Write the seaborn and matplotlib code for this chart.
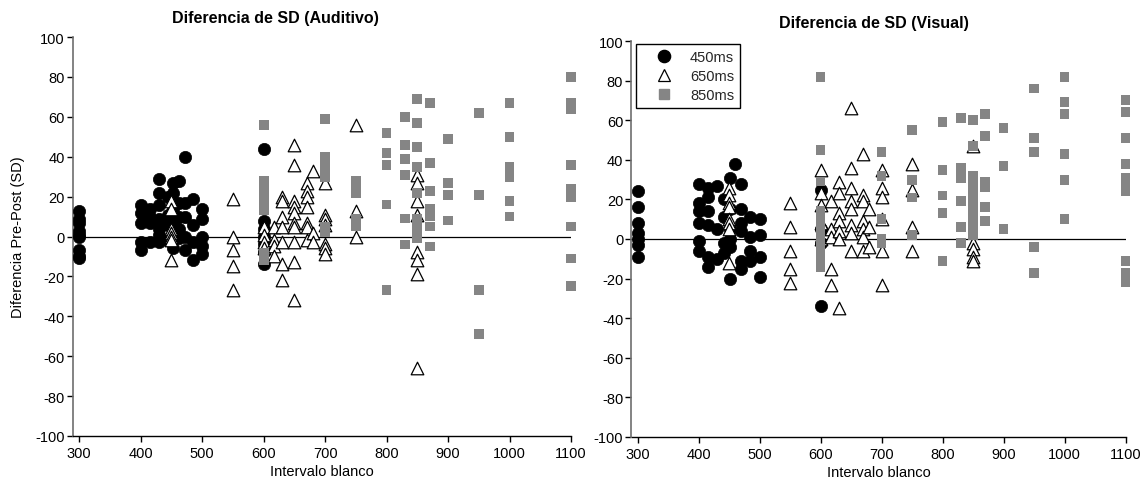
import matplotlib
matplotlib.use("Agg")
import matplotlib.pyplot as plt
import seaborn as sns
import pandas as pd
from matplotlib.lines import Line2D

# ---------------- data (interval, list of values) ----------------
series_names = ["450ms", "650ms", "850ms"]
x_ticks = [300, 400, 500, 600, 700, 800, 900, 1000, 1100]
y_ticks = [-100, -80, -60, -40, -20, 0, 20, 40, 60, 80, 100]

# Auditivo
aud_450 = [
    (300, [13, 9, 7, 3, 1, 0, -7, -10, -11]),
    (400, [16, 12, 7, -3, -7]),
    (415, [14, 10, 7, -3]),
    (430, [29, 22, 16, 9, 4, 1, -3]),
    (445, [20, 11, 6, -2]),
    (452, [27, 22, 14, 7, 1, -6]),
    (462, [28, 17, 10, 4, -1]),
    (472, [40, 17, 10, 0, -7]),
    (485, [19, 6, -3, -12]),
    (500, [14, 9, 0, -5, -9]),
    (600, [44, 8, 4, 0, -4, -8, -14]),
]
aud_650 = [
    (450, [18, 14, 4, 2, 0, -2, -12]),
    (550, [19, 0, -7, -15, -27]),
    (600, [5, 1, -3, -6]),
    (617, [5, -2, -5, -10]),
    (630, [20, 18, 10, 5, -3, -14, -22]),
    (650, [46, 36, 18, 15, 12, 7, 5, -3, -13, -32]),
    (670, [27, 23, 20, 15, 7, 5, -2]),
    (680, [33, 2, -3]),
    (700, [27, 11, 9, 6, -4, -6, -9]),
    (750, [56, 13, 0]),
    (850, [31, 27, 18, 11, -8, -12, -19, -66]),
]
aud_850 = [
    (600, [56, 28, 24, 20, 16, 13, -8, -12]),
    (700, [59, 40, 37, 33, 30, 5, 2]),
    (750, [28, 24, 22, 9, 5]),
    (800, [52, 42, 36, 16, -27]),
    (830, [60, 46, 39, 31, 9, -4]),
    (850, [69, 57, 45, 35, 22, 9, 5, 2, -1]),
    (870, [67, 37, 23, 14, 10, 5, -5]),
    (900, [49, 27, 21, 8]),
    (950, [62, 21, -27, -49]),
    (1000, [67, 50, 35, 30, 18, 10]),
    (1100, [80, 67, 64, 36, 24, 20, 5, -11, -25]),
]

# Visual
vis_450 = [
    (300, [24, 16, 8, 3, 0, -3, -9]),
    (400, [28, 18, 14, 8, -1, -6]),
    (415, [26, 21, 14, 7, -9, -14]),
    (430, [27, 5, -10]),
    (442, [20, 11, -2, -7]),
    (451, [31, 15, 5, 0, -4, -20]),
    (460, [38]),
    (470, [28, 15, 8, 4, -11, -15]),
    (484, [11, 1, -6, -11]),
    (500, [10, 2, -9, -19]),
    (600, [25, 5, -2, -34]),
]
vis_650 = [
    (450, [26, 22, 18, 16, 10, 8, 5, -12]),
    (550, [18, 6, -6, -15, -22]),
    (600, [35, 23, 17, 8, 0]),
    (617, [19, 5, 1, -15, -23]),
    (630, [29, 23, 13, 9, 4, 0, -35]),
    (650, [66, 36, 26, 19, 15, 7, 3, -6]),
    (670, [43, 22, 19, 9, 5, 1, -6]),
    (680, [15, 6, -4]),
    (700, [35, 26, 21, 10, -6, -23]),
    (750, [38, 25, 6, -6]),
    (850, [47, -2, -5, -9, -11]),
]
vis_850 = [
    (600, [82, 45, 29, 14, 10, 6, 3, -2, -6, -10, -14]),
    (700, [44, 32, 10, 0, -2]),
    (750, [55, 30, 21, 2]),
    (800, [59, 35, 22, 13, -11]),
    (830, [61, 36, 31, 19, 6, -2]),
    (850, [60, 47, 32, 29, 26, 22, 17, 13, 10, 6, 2]),
    (870, [63, 52, 29, 26, 16, 9]),
    (900, [56, 37, 5]),
    (950, [76, 51, 44, -4, -17]),
    (1000, [82, 69, 63, 43, 30, 10]),
    (1100, [70, 64, 51, 38, 31, 27, 24, -11, -17, -22]),
]


def expand(groups):
    xs, ys = [], []
    for x, vals in groups:
        xs += [x] * len(vals)
        ys += list(vals)
    return pd.DataFrame({"x": xs, "y": ys})


sns.set_theme(style="white")
plt.rcParams["font.family"] = ["Liberation Sans", "DejaVu Sans"]
plt.rcParams["axes.unicode_minus"] = False

fig = plt.figure(figsize=(11.48, 4.85), dpi=100)
ax1 = fig.add_axes([73 / 1148, 48 / 485, 498 / 1148, 399 / 485])
ax2 = fig.add_axes([631.5 / 1148, 47 / 485, 494 / 1148, 396 / 485])

styles = [
    dict(marker="o", color="black", edgecolor="black", s=78, linewidth=0.5),
    dict(marker="^", color="white", edgecolor="black", s=82, linewidth=0.9),
    dict(marker="s", color="#858585", edgecolor="none", s=50, linewidth=0),
]

panels = [
    (ax1, [aud_450, aud_650, aud_850], "Diferencia de SD (Auditivo)", 0.406, 20),
    (ax2, [vis_450, vis_650, vis_850], "Diferencia de SD (Visual)", 0.490, 19),
]

for ax, groups, title, tx, ty in panels:
    ax.axhline(0, color="black", lw=0.9, zorder=1)
    for name, g, st in zip(series_names, groups, styles):
        df = expand(g)
        sns.scatterplot(data=df, x="x", y="y", ax=ax, label=name,
                        clip_on=False, zorder=3, legend=False, **st)
    ax.set_xlim(290, 1100)
    ax.set_ylim(-100, 100)
    ax.set_xticks(x_ticks)
    ax.set_yticks(y_ticks)
    ax.tick_params(axis="both", which="major", direction="out", length=4,
                   width=1, labelsize=10.5, color="black", pad=2,
                   bottom=True, left=True, labelcolor="black")
    ax.tick_params(axis="x", pad=3)
    for sp in ["top", "right"]:
        ax.spines[sp].set_visible(False)
    ax.spines["left"].set_color("#6e6e6e")
    ax.spines["left"].set_linewidth(1.2)
    ax.spines["bottom"].set_color("black")
    ax.spines["bottom"].set_linewidth(1.0)
    ax.set_xlabel("Intervalo blanco", fontsize=10.5, labelpad=3, color="black")
    ax.set_ylabel("")
    ax.text(tx, 1.0 + ty / 399, title, transform=ax.transAxes, ha="center",
            va="center", fontsize=11.5, fontweight="bold", color="black")
    ax.set_facecolor("white")

ax1.set_ylabel("Diferencia Pre-Post (SD)", fontsize=10.5, labelpad=7, color="black")

handles = [
    Line2D([], [], marker="o", ls="none", color="black", markersize=8.8),
    Line2D([], [], marker="^", ls="none", markerfacecolor="white",
           markeredgecolor="black", markersize=8.8, markeredgewidth=0.9),
    Line2D([], [], marker="s", ls="none", color="#858585", markersize=7),
]
leg = ax2.legend(handles, series_names, loc="upper left",
                 bbox_to_anchor=(0.009, 0.992), frameon=True, fancybox=False,
                 edgecolor="black", framealpha=1, fontsize=10.5,
                 handlelength=3.0, handletextpad=0.3, borderpad=0.4,
                 labelspacing=0.35, borderaxespad=0)
leg.get_frame().set_linewidth(1.0)

fig.savefig("out.png", dpi=100, facecolor="white")
